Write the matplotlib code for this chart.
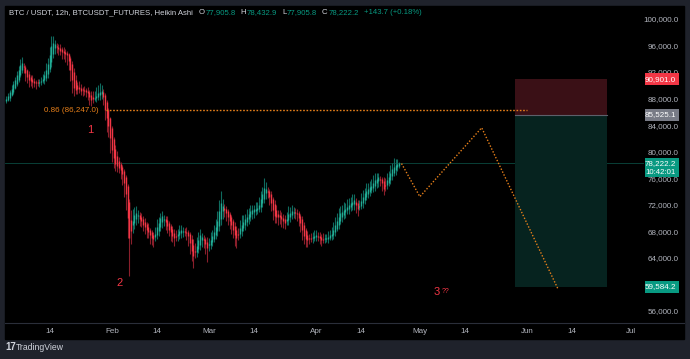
import matplotlib
matplotlib.use('Agg')
import matplotlib.pyplot as plt
import matplotlib.dates as mdates
from matplotlib.patches import Rectangle
from matplotlib.lines import Line2D
import numpy as np
import pandas as pd

FONT = ['Liberation Sans Narrow', 'Liberation Sans', 'DejaVu Sans']
plt.rcParams['font.family'] = FONT

# ---------------- data (Heikin Ashi, thousands of USDT) ----------------
candle_start = '2026-01-01 12:00'
first_open = 87.6
ha_close = [
    88.0, 88.4, 89.0, 89.5, 90.2, 90.8, 91.5, 92.3, 93.0,
    93.4, 92.8, 91.8, 91.2, 90.8, 90.6, 90.5,
    90.4, 90.3, 90.4, 90.5, 90.7, 90.9,
    91.5, 92.3, 93.2, 94.6, 96.0,
    96.4, 96.2, 95.8, 95.4,
    95.2, 95.0, 94.8, 94.7, 94.5,
    93.6, 92.3, 90.8, 89.6,
    89.3, 89.5, 89.4, 89.2, 89.3, 89.1, 89.0, 88.8,
    88.2, 87.8, 87.9, 88.1, 88.4,
    88.8, 89.0, 89.1, 88.2,
    86.3, 85.0, 83.8, 82.0, 80.2, 79.0, 78.2,
    77.9, 77.6, 77.2, 76.6, 75.2, 73.6,
    70.0, 67.0, 68.0,
    69.5, 70.4, 70.8, 70.5, 69.9,
    69.5, 69.0, 68.6, 68.2, 67.8, 67.4, 67.0, 66.8,
    67.6, 68.6, 69.3, 70.0, 70.3, 69.9, 69.4,
    68.8, 68.2, 67.8, 67.3, 66.9, 67.1,
    67.6, 68.0, 68.2, 68.0, 67.9, 67.7, 67.2,
    66.2, 65.0, 64.2, 64.8, 65.7,
    66.6, 67.4, 67.1, 66.6, 66.0, 65.4,
    66.0, 66.7, 67.3, 67.9, 68.6, 69.6,
    71.0, 72.2, 71.8, 71.2, 70.7, 70.2,
    69.6, 68.9, 68.2, 67.4, 66.9, 67.5,
    68.5, 69.0, 69.4, 69.8, 70.2, 70.6, 71.0, 71.2,
    71.3, 71.4, 71.5, 72.0, 72.8, 73.6, 74.5, 74.4,
    74.0, 73.2, 72.2, 71.2, 70.3, 70.1, 70.2, 70.1,
    69.8, 69.5, 69.2, 69.9, 70.6,
    70.8, 71.0, 70.9, 70.8, 70.6, 70.0,
    69.2, 68.2, 67.3, 66.8, 66.6, 66.8,
    66.9, 67.1, 67.3, 67.4, 67.2, 66.9, 66.7, 66.8, 66.9, 66.9,
    67.1, 67.4, 67.6, 68.2, 68.9, 69.5, 70.1, 70.7,
    70.9, 71.2, 71.4, 71.6, 71.9, 72.2, 72.4, 72.7,
    72.0, 71.3, 71.8, 72.6, 73.2, 73.7,
    74.0, 74.3, 74.6, 74.8, 75.2, 75.7, 75.9,
    76.1, 75.8, 75.2, 74.4, 74.9,
    75.7, 76.2, 76.8, 77.3, 77.7, 78.0, 78.1, 78.2222,
]
upper_wick = [
    0.4, 0.5, 0.3, 0.6, 0.4, 0.5, 0.7, 0.6, 0.9, 0.8,
    0.5, 0.3, 0.2, 0.4, 0.3, 0.6, 0.4, 0.3, 0.5, 0.4,
    0.6, 0.8, 0.7, 1.0, 0.9, 1.2, 1.5, 1.0, 0.6, 0.5,
    0.4, 0.6, 0.3, 0.5, 0.4, 0.3, 0.2, 0.3, 0.4, 0.6,
    0.7, 0.5, 0.8, 0.6, 0.4, 0.5, 0.3, 0.6, 0.4, 0.5,
    0.9, 1.1, 1.3, 1.2, 1.4, 1.0, 0.5, 0.3, 0.4, 0.3,
    0.2, 0.4, 0.3, 0.5, 0.8, 0.6, 0.3, 0.4, 0.2, 0.3,
    0.3, 0.4, 1.5, 1.8, 1.2, 1.0, 0.7, 0.5, 0.6, 0.4,
    0.5, 0.4, 0.6, 0.3, 0.4, 0.5, 1.0, 1.2, 0.9, 0.8,
    0.7, 0.5, 0.4, 0.6, 0.3, 0.4, 0.5, 0.6, 0.8, 0.7,
    0.9, 0.8, 0.6, 0.5, 0.7, 0.4, 0.3, 0.5, 0.9, 1.2,
    1.4, 1.2, 0.9, 0.6, 0.5, 0.4, 0.7, 1.0, 1.1, 0.8,
    1.0, 1.3, 1.5, 1.7, 1.8, 1.0, 0.6, 0.5, 0.4, 0.3,
    0.4, 0.3, 0.5, 0.6, 1.0, 1.2, 1.4, 1.0, 0.8, 1.1,
    0.9, 1.0, 0.8, 0.7, 1.0, 0.9, 1.2, 1.3, 1.1, 1.5,
    1.0, 0.6, 0.4, 0.5, 0.3, 0.6, 0.8, 0.5, 0.7, 0.6,
    0.5, 0.7, 1.0, 1.2, 0.9, 1.0, 0.8, 0.7, 0.6, 0.4,
    0.3, 0.5, 0.4, 0.3, 0.5, 0.6, 0.8, 0.7, 0.9, 0.8,
    0.6, 0.7, 0.5, 0.8, 0.6, 0.7, 0.9, 0.8, 1.0, 1.2,
    1.3, 1.2, 1.4, 1.1, 1.0, 1.2, 0.9, 1.3, 1.1, 1.0,
    1.2, 0.9, 0.6, 0.5, 0.9, 1.1, 1.0, 0.8, 1.2, 1.0,
    0.9, 1.1, 1.3, 1.0, 0.8, 0.7, 0.5, 0.4, 0.6, 1.0,
    1.1, 0.9, 1.2, 1.0, 1.3, 0.9, 0.8, 0.2,
]
lower_wick = [
    0.3, 0.2, 0.4, 0.2, 0.3, 0.2, 0.3, 0.4, 0.3, 0.5,
    0.9, 1.2, 0.8, 1.0, 0.7, 0.9, 0.6, 0.8, 0.5, 0.6,
    0.4, 0.3, 0.5, 0.4, 0.6, 0.5, 0.8, 0.7, 0.9, 1.0,
    0.8, 0.7, 1.0, 0.8, 1.2, 1.4, 1.3, 1.6, 1.9, 1.2,
    0.6, 0.8, 0.5, 0.7, 0.9, 0.6, 0.8, 1.0, 1.2, 0.9,
    0.5, 0.4, 0.6, 0.5, 0.7, 0.9, 1.2, 1.5, 2.0, 1.6,
    2.2, 1.8, 1.5, 1.2, 1.0, 0.9, 1.4, 1.6, 2.0, 2.4,
    3.0, 5.8, 2.0, 1.2, 0.8, 0.9, 1.0, 1.1, 0.9, 1.0,
    1.0, 1.2, 0.9, 1.3, 1.1, 1.2, 0.6, 0.5, 0.7, 0.6,
    0.8, 1.0, 1.2, 1.1, 0.9, 1.3, 1.0, 1.2, 0.6, 0.7,
    0.6, 0.8, 0.9, 0.7, 1.0, 1.4, 1.6, 1.5, 1.8, 0.9,
    0.8, 0.6, 0.8, 1.0, 1.2, 1.5, 2.1, 0.9, 0.7, 0.6,
    0.5, 0.6, 0.7, 0.8, 1.0, 1.2, 1.0, 1.1, 1.3, 1.2,
    1.4, 1.2, 1.6, 1.5, 0.8, 0.6, 0.7, 0.5, 0.8, 0.6,
    0.7, 0.6, 0.8, 0.9, 0.7, 0.6, 0.5, 0.8, 0.6, 0.7,
    0.9, 1.0, 1.3, 1.2, 1.5, 1.1, 0.9, 1.2, 1.0, 1.1,
    1.0, 0.8, 0.6, 0.7, 0.8, 0.6, 0.7, 0.9, 1.0, 1.2,
    1.4, 1.5, 1.3, 1.2, 1.0, 0.8, 0.6, 0.7, 0.5, 0.6,
    0.7, 0.8, 0.9, 0.6, 0.7, 0.5, 0.6, 0.4, 0.5, 0.6,
    0.5, 0.4, 0.6, 0.5, 0.7, 0.6, 0.8, 0.5, 0.7, 0.6,
    0.7, 0.9, 1.2, 1.0, 0.6, 0.5, 0.7, 0.6, 0.5, 0.6,
    0.7, 0.5, 0.6, 0.8, 0.7, 0.9, 1.0, 1.2, 1.0, 0.8,
    0.6, 0.5, 0.7, 0.6, 0.5, 0.7, 0.5, 0.3,
]

title_label = "BTC / USDT, 12h, BTCUSDT_FUTURES, Heikin Ashi"
ohlc_letters = ["O", "H", "L", "C"]
ohlc_values = ["77,905.8", "78,432.9", "77,905.8", "78,222.2"]
change_text = "+143.7 (+0.18%)"

price_ticks = [56000, 60000, 64000, 68000, 72000, 76000, 80000, 84000,
               88000, 92000, 96000, 100000]
time_tick_dates = ['2026-01-14', '2026-02-01', '2026-02-14', '2026-03-01',
                   '2026-03-14', '2026-04-01', '2026-04-14', '2026-05-01',
                   '2026-05-14', '2026-06-01', '2026-06-14', '2026-07-01']
time_tick_labels = ['14', 'Feb', '14', 'Mar', '14', 'Apr', '14', 'May',
                    '14', 'Jun', '14', 'Jul']

fib_level = 86247.0
fib_label = "0.86 (86,247.0)"
fib_span = ['2026-01-30 07:00', '2026-05-31 21:00']

proj_dates = ['2026-04-25 17:00', '2026-05-01 00:00', '2026-05-18 21:00',
              '2026-06-10 00:00']
proj_prices = [78200, 73200, 83600, 59200]

pos_span = ['2026-05-28 14:00', '2026-06-24 02:00']
pos_stop = 90901.0
pos_entry = 85525.1
pos_target = 59584.2
last_price = 78222.2
countdown = "10:42:01"

wave_labels = ["1", "2", "3"]
wave_dates = ['2026-01-25 17:00', '2026-02-03 07:00', '2026-05-05 22:00']
wave_prices = [83260, 60180, 58820]

# ---------------- style ----------------
UP = '#22ab94'
DOWN = '#f23645'
UP_WICK = '#0f6b5e'
DOWN_WICK = '#8a1f2b'
AXIS_TXT = '#b2b5be'
ORANGE = '#e8801a'
FS = 5.8
W, H = 690, 359

fig = plt.figure(figsize=(6.9, 3.59), dpi=100, facecolor='#1f222b')
fig.add_artist(Rectangle((5 / W, 1 - 339 / H), 679 / W, 333 / H,
                         transform=fig.transFigure, color='black', zorder=0))
ax = fig.add_axes([5 / W, 1 - 323 / H, 639 / W, 317 / H])
ax.set_facecolor('black')
for s in ax.spines.values():
    s.set_visible(False)

# candles
c = np.array(ha_close) * 1000
n = len(c)
o = np.empty(n)
o[0] = first_open * 1000
for i in range(1, n):
    o[i] = (o[i - 1] + c[i - 1]) / 2
hi = np.maximum(o, c) + np.array(upper_wick) * 1000
lo = np.minimum(o, c) - np.array(lower_wick) * 1000
times = pd.date_range(candle_start, periods=n, freq='12h')
xd = mdates.date2num(times.to_pydatetime())
up = c >= o
body_top = np.maximum(o, c)
body_bot = np.minimum(o, c)
body_bot = np.where(body_top - body_bot < 150, body_top - 150, body_bot)

ax.vlines(xd, lo, hi, colors=np.where(up, UP_WICK, DOWN_WICK), lw=0.8, zorder=2)
ax.vlines(xd, body_bot, body_top, colors=np.where(up, UP, DOWN), lw=1.0,
          zorder=3, capstyle='butt')

# limits
ax.set_xlim(mdates.date2num(pd.Timestamp('2026-01-01 02:00')),
            mdates.date2num(pd.Timestamp('2026-07-04 19:00')))
ax.set_ylim(54148, 101960)

# axes ticks
ax.yaxis.tick_right()
ax.set_yticks(price_ticks)
ax.set_yticklabels([f"{v:,.1f}" for v in price_ticks])
ax.tick_params(axis='y', length=0, pad=25.2, labelcolor=AXIS_TXT, labelsize=FS)
for lbl in ax.get_yticklabels():
    lbl.set_horizontalalignment('right')
ax.set_xticks(mdates.date2num(pd.to_datetime(time_tick_dates).to_pydatetime()))
ax.set_xticklabels(time_tick_labels)
ax.tick_params(axis='x', length=0, pad=3.5, labelcolor=AXIS_TXT, labelsize=FS)
ax.grid(False)

fig.add_artist(Line2D([5 / W, 684 / W], [1 - 323 / H, 1 - 323 / H],
                      transform=fig.transFigure, color='#2a2e39', lw=0.8))

# current price line
ax.axhline(last_price, color='#0a4a40', lw=0.6, zorder=1)

# fib line
fx = mdates.date2num(pd.to_datetime(fib_span).to_pydatetime())
ax.plot(fx, [fib_level, fib_level], color=ORANGE, lw=1.0, ls=(0, (1.2, 1.2)),
        zorder=4)
ax.annotate(fib_label, (fx[0], fib_level), xytext=(-5, 0),
            textcoords='offset points', ha='right', va='center',
            color=ORANGE, fontsize=FS)

# position tool
px = mdates.date2num(pd.to_datetime(pos_span).to_pydatetime())
ax.add_patch(Rectangle((px[0], pos_entry), px[1] - px[0], pos_stop - pos_entry,
                       facecolor='#3a1016', edgecolor='none', zorder=1))
ax.add_patch(Rectangle((px[0], pos_target), px[1] - px[0], pos_entry - pos_target,
                       facecolor='#06231f', edgecolor='none', zorder=1))
ax.plot(px, [pos_entry, pos_entry], color='#5d606b', lw=0.8, zorder=2)

# projection path
pdx = mdates.date2num(pd.to_datetime(proj_dates).to_pydatetime())
ax.plot(pdx, proj_prices, color=ORANGE, lw=1.0, ls=(0, (1.0, 1.3)), zorder=4)

# wave labels
wdx = mdates.date2num(pd.to_datetime(wave_dates).to_pydatetime())
for lab, x_, y_ in zip(wave_labels, wdx, wave_prices):
    ax.text(x_, y_, lab, color=DOWN, fontsize=8, ha='center', va='center',
            zorder=5)
ax.annotate("??", (wdx[2], wave_prices[2]), xytext=(3.5, 0.5),
            textcoords='offset points', color=DOWN, fontsize=5, ha='left',
            va='center')

# price tags
yt = ax.get_yaxis_transform()
PX_PER_K = 317 / ((101960 - 54148) / 1000)


def tag(price, color, text, top_px=6, bot_px=6):
    ax.add_patch(Rectangle((1.0016, price - bot_px / PX_PER_K * 1000), 0.0532,
                           (top_px + bot_px) / PX_PER_K * 1000, transform=yt,
                           facecolor=color, edgecolor='none', clip_on=False,
                           zorder=6))
    ax.text(1.0500, price, text, transform=yt, color='white', fontsize=FS,
            ha='right', va='center', zorder=7, clip_on=False)


tag(pos_stop, DOWN, f"{pos_stop:,.1f}")
tag(pos_entry, '#787b86', f"{pos_entry:,.1f}")
tag(last_price, '#089981', f"{last_price:,.1f}", top_px=5.5, bot_px=14)
ax.text(1.0500, last_price - 9 / PX_PER_K * 1000, countdown, transform=yt,
        color='white', fontsize=5.6, ha='right', va='center', zorder=7,
        clip_on=False)
tag(pos_target, '#089981', f"{pos_target:,.1f}")

# legend / title line: pieces placed one after another
renderer = fig.canvas.get_renderer()
ty = 1 - 13 / H
TS = 5.6
pieces = [(title_label, '#d1d4dc', 6)]
for L, V in zip(ohlc_letters, ohlc_values):
    pieces.append((L, '#d1d4dc', 0.5))
    pieces.append((V, '#089981', 5))
pieces.append((change_text, '#089981', 0))
cur = 9.0
for txt, col, gap in pieces:
    t = fig.text(cur / W, ty, txt, color=col, fontsize=TS, va='center')
    cur += t.get_window_extent(renderer).width + gap

# logo
fig.text(5 / W, 1 - 347 / H, "17", color='#d1d4dc', fontsize=7,
         fontweight='bold', va='center')
fig.text(16 / W, 1 - 347 / H, "TradingView", color='#d1d4dc', fontsize=6.2,
         va='center')

fig.savefig('out.png', dpi=100, facecolor=fig.get_facecolor())
